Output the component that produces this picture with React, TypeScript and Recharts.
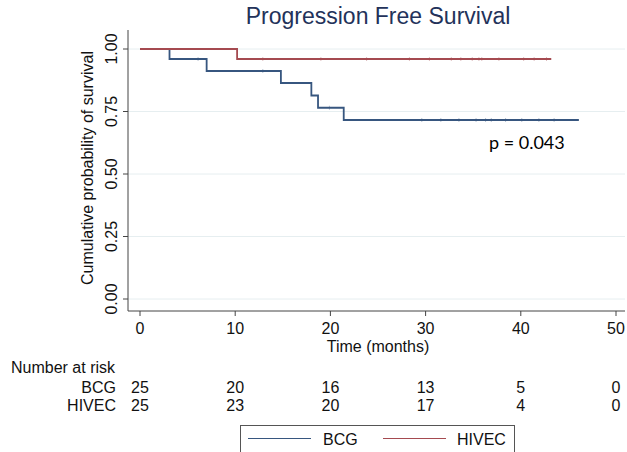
import React from "react";
import { ComposedChart, Line, XAxis, YAxis, CartesianGrid } from "recharts";

// Kaplan-Meier steps
const bcgTime = [0, 3.1, 7.0, 14.8, 18.0, 18.7, 21.4, 46.1];
const bcgSurv = [1, 0.96, 0.912, 0.864, 0.814, 0.765, 0.716, 0.716];
const hivecTime = [0, 10.2, 43.2];
const hivecSurv = [1, 0.96, 0.96];

// censoring marks (months)
const bcgCensor = [6.1, 12.9, 19.9, 29.6, 31.6, 33.5, 35.3, 36.3, 36.9, 38.4, 40.1, 41.9, 43.5];
const hivecCensor = [12.9, 19.0, 23.8, 28.3, 30.4, 32.7, 33.7, 34.9, 35.6, 35.9, 37.7, 40.3, 41.4, 42.7];

const months = [0, 10, 20, 30, 40, 50];
const riskBCG = [25, 20, 16, 13, 5, 0];
const riskHIVEC = [25, 23, 20, 17, 4, 0];
const yTicks = [0, 0.25, 0.5, 0.75, 1];

const BLUE = "#37567f";
const RED = "#a54a50";
const FONT = "'Liberation Sans', Arial, sans-serif";

const survAt = (times: number[], surv: number[], t: number) => {
  let v = surv[0];
  times.forEach((tt, i) => {
    if (tt <= t) v = surv[i];
  });
  return v;
};

const bcgData = bcgTime.map((t, i) => ({ t, s: bcgSurv[i] }));
const hivecData = hivecTime.map((t, i) => ({ t, s: hivecSurv[i] }));
const bcgCensorData = bcgCensor.map((t) => ({ t, s: survAt(bcgTime, bcgSurv, t) }));
const hivecCensorData = hivecCensor.map((t) => ({ t, s: survAt(hivecTime, hivecSurv, t) }));

const censorMark = (color: string) => (props: any) => {
  const { cx, cy, index } = props;
  return <line key={index} x1={cx} x2={cx} y1={cy - 2} y2={cy + 2} stroke={color} strokeWidth={1} opacity={0.35} />;
};

const XTick = (props: any) => {
  const { x, y, payload } = props;
  const i = months.indexOf(payload.value);
  return (
    <g fontFamily={FONT} fontSize={16} fill="#111" textAnchor="middle">
      <text x={x} y={y + 16}>{payload.value}</text>
      <text x={x} y={y + 75}>{riskBCG[i]}</text>
      <text x={x} y={y + 93}>{riskHIVEC[i]}</text>
    </g>
  );
};

const YTick = (props: any) => {
  const { x, y, payload } = props;
  const cx = x - 10;
  return (
    <text
      x={cx}
      y={y}
      transform={`rotate(-90, ${cx}, ${y})`}
      textAnchor="middle"
      dominantBaseline="central"
      fontFamily={FONT}
      fontSize={16}
      fill="#111"
    >
      {payload.value.toFixed(2)}
    </text>
  );
};

const abs = (style: React.CSSProperties): React.CSSProperties => ({
  position: "absolute",
  fontFamily: FONT,
  fontSize: 16,
  color: "#111",
  whiteSpace: "nowrap",
  lineHeight: 1,
  ...style,
});

export default function App() {
  return (
    <div style={{ position: "absolute", left: 0, top: 0, width: 627, height: 452, background: "#fff", overflow: "hidden" }}>
      <ComposedChart width={627} height={452} margin={{ top: 30, right: 2, bottom: 111, left: 68 }}>
        <CartesianGrid horizontal vertical={false} stroke="#e6eef0" horizontalValues={yTicks} />
        <XAxis
          type="number"
          dataKey="t"
          domain={[0, 50]}
          ticks={months}
          allowDataOverflow
          padding={{ left: 12, right: 9 }}
          height={30}
          tickSize={5}
          tick={<XTick />}
          stroke="#444"
          interval={0}
        />
        <YAxis
          type="number"
          dataKey="s"
          domain={[0, 1]}
          ticks={yTicks}
          padding={{ top: 19, bottom: 12 }}
          width={60}
          tickSize={5}
          tick={<YTick />}
          stroke="#444"
          interval={0}
        />
        <Line data={bcgData} dataKey="s" type="stepAfter" stroke={BLUE} strokeWidth={1.8} dot={false} activeDot={false} isAnimationActive={false} />
        <Line data={hivecData} dataKey="s" type="stepAfter" stroke={RED} strokeWidth={1.8} dot={false} activeDot={false} isAnimationActive={false} />
        <Line data={bcgCensorData} dataKey="s" stroke="none" dot={censorMark(BLUE)} activeDot={false} isAnimationActive={false} />
        <Line data={hivecCensorData} dataKey="s" stroke="none" dot={censorMark(RED)} activeDot={false} isAnimationActive={false} />
      </ComposedChart>

      <div style={abs({ left: 378, top: 5, fontSize: 23, color: "#23325a", transform: "translateX(-50%)" })}>
        Progression Free Survival
      </div>
      <div style={abs({ left: 88, top: 168, transform: "translate(-50%, -50%) rotate(-90deg)" })}>
        Cumulative probability of survival
      </div>
      <div style={abs({ left: 378, top: 339, transform: "translateX(-50%)" })}>Time (months)</div>
      <div style={abs({ left: 11, top: 360 })}>Number at risk</div>
      <div style={abs({ right: 627 - 116, top: 380 })}>BCG</div>
      <div style={abs({ right: 627 - 116, top: 398 })}>HIVEC</div>
      <div style={abs({ left: 489, top: 133, fontFamily: "Lato, 'Open Sans', sans-serif", fontSize: 18, color: "#000" })}>
        p = 0.043
      </div>

      <div style={{ position: "absolute", left: 240, top: 425, width: 275, height: 40, border: "1px solid #555", boxSizing: "border-box" }}>
        <div style={{ position: "absolute", left: 7, top: 12, width: 63, height: 0, borderTop: `1.5px solid ${BLUE}` }} />
        <div style={abs({ left: 82, top: 6 })}>BCG</div>
        <div style={{ position: "absolute", left: 142, top: 12, width: 63, height: 0, borderTop: `1.5px solid ${RED}` }} />
        <div style={abs({ left: 216, top: 6 })}>HIVEC</div>
      </div>
    </div>
  );
}
